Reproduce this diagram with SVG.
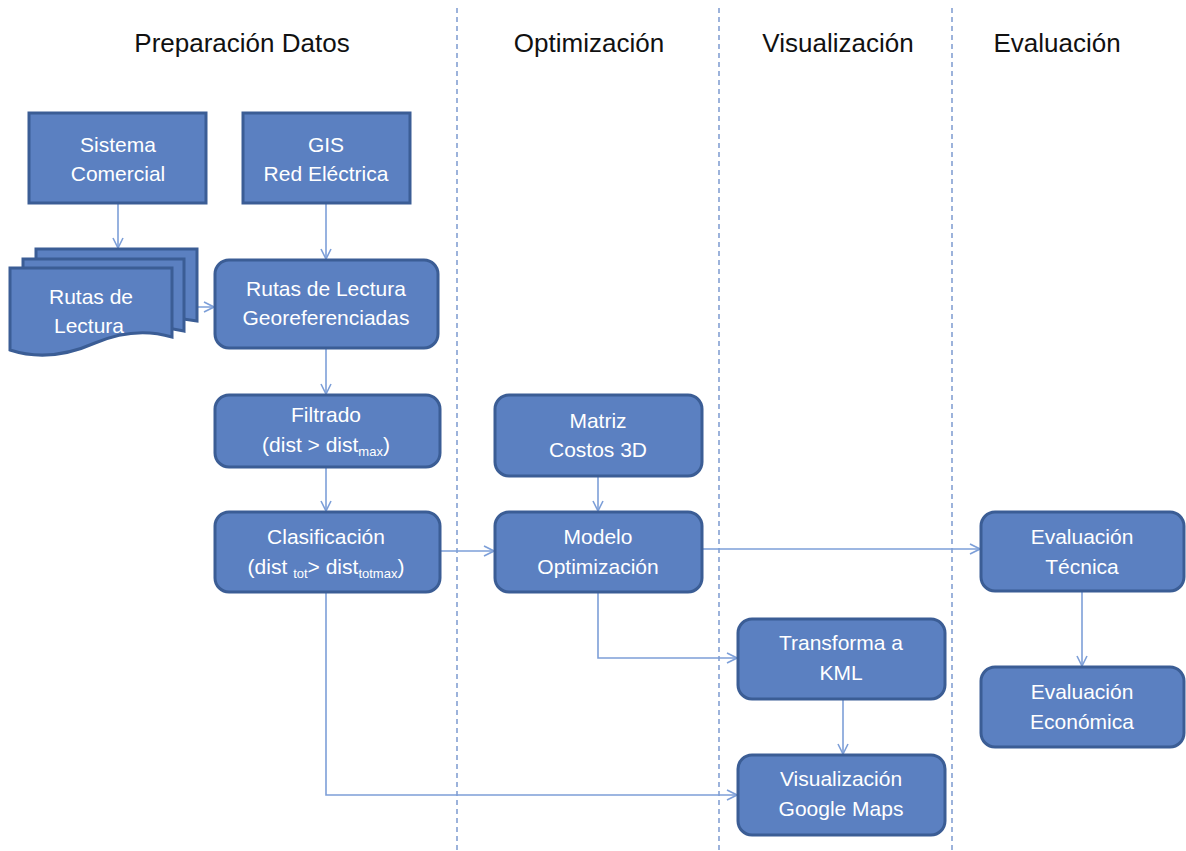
<svg xmlns="http://www.w3.org/2000/svg" width="1186" height="851" viewBox="0 0 1186 851">
  <style>
    .lane { stroke: #5b80c4; stroke-width: 1.2; stroke-dasharray: 5 4; fill: none; }
    .hdr { font-family: "Liberation Sans", Arial, sans-serif; font-size: 26px; fill: #111; text-anchor: middle; }
    .box { fill: #5b80c1; stroke: #3b5d95; stroke-width: 3; }
    .lbl { font-family: "Liberation Sans", Arial, sans-serif; font-size: 21px; fill: #fff; text-anchor: middle; }
    .sub { font-size: 13px; }
    .conn { stroke: #7d9fd8; stroke-width: 1.6; fill: none; marker-end: url(#arr); }
  </style>
  <defs>
    <marker id="arr" viewBox="0 0 12 12" refX="11" refY="6" markerWidth="12" markerHeight="12" markerUnits="userSpaceOnUse" orient="auto">
      <path d="M1,1 L11,6 L1,11" fill="none" stroke="#7d9fd8" stroke-width="1.6"/>
    </marker>
  </defs>
  <rect width="1186" height="851" fill="#fff"/>

  <!-- swimlane separators -->
  <g id="lanes">
    <line class="lane" x1="457" y1="8" x2="457" y2="851"/>
    <line class="lane" x1="719" y1="8" x2="719" y2="851"/>
    <line class="lane" x1="952" y1="8" x2="952" y2="851"/>
  </g>

  <g id="headers">
    <text class="hdr" x="242" y="52">Preparación Datos</text>
    <text class="hdr" x="589" y="52">Optimización</text>
    <text class="hdr" x="838" y="52">Visualización</text>
    <text class="hdr" x="1057" y="52">Evaluación</text>
  </g>

  <!-- connectors -->
  <g id="connectors">
    <path class="conn" d="M118,203 V248"/>
    <path class="conn" d="M326,203 V259"/>
    <path class="conn" d="M166,307 H214"/>
    <path class="conn" d="M326,348 V394"/>
    <path class="conn" d="M326,467 V511"/>
    <path class="conn" d="M440,551 H494"/>
    <path class="conn" d="M326,592 V795 H737"/>
    <path class="conn" d="M598,476 V511"/>
    <path class="conn" d="M702,549 H980"/>
    <path class="conn" d="M598,592 V658 H737"/>
    <path class="conn" d="M843,699 V754"/>
    <path class="conn" d="M1082,591 V666"/>
  </g>

  <g id="sistema-comercial">
    <rect class="box" x="29" y="113" width="177" height="90"/>
    <text class="lbl" x="118" y="152">Sistema</text>
    <text class="lbl" x="118" y="181">Comercial</text>
  </g>

  <g id="gis-red">
    <rect class="box" x="243" y="113" width="167" height="90"/>
    <text class="lbl" x="326" y="152">GIS</text>
    <text class="lbl" x="326" y="181">Red Eléctrica</text>
  </g>

  <g id="rutas-lectura">
    <path class="box" d="M36,249 H197 V321 Q170,316 150,322 L36,322 Z"/>
    <path class="box" d="M23,259 H184 V331 Q160,325 140,332 L23,332 Z"/>
    <path class="box" d="M10,268 H172 V337 Q135,326 95,343 Q50,363 10,350 Z"/>
    <text class="lbl" x="91" y="304">Rutas de</text>
    <text class="lbl" x="89" y="333">Lectura</text>
  </g>

  <g id="rutas-georef">
    <rect class="box" x="215" y="260" width="223" height="88" rx="14"/>
    <text class="lbl" x="326" y="296">Rutas de Lectura</text>
    <text class="lbl" x="326" y="325">Georeferenciadas</text>
  </g>

  <g id="filtrado">
    <rect class="box" x="215" y="395" width="225" height="72" rx="14"/>
    <text class="lbl" x="326" y="422">Filtrado</text>
    <text class="lbl" x="326" y="452">(dist &gt; dist<tspan class="sub" dy="4">max</tspan><tspan dy="-4">)</tspan></text>
  </g>

  <g id="clasificacion">
    <rect class="box" x="215" y="512" width="225" height="80" rx="14"/>
    <text class="lbl" x="326" y="544">Clasificación</text>
    <text class="lbl" x="326" y="574">(dist <tspan class="sub" dy="4">tot</tspan><tspan dy="-4">&gt; dist</tspan><tspan class="sub" dy="4">totmax</tspan><tspan dy="-4">)</tspan></text>
  </g>

  <g id="matriz-costos">
    <rect class="box" x="495" y="395" width="207" height="81" rx="14"/>
    <text class="lbl" x="598" y="428">Matriz</text>
    <text class="lbl" x="598" y="457">Costos 3D</text>
  </g>

  <g id="modelo-optimizacion">
    <rect class="box" x="495" y="512" width="207" height="80" rx="14"/>
    <text class="lbl" x="598" y="544">Modelo</text>
    <text class="lbl" x="598" y="574">Optimización</text>
  </g>

  <g id="transforma-kml">
    <rect class="box" x="738" y="619" width="207" height="80" rx="14"/>
    <text class="lbl" x="841" y="650">Transforma a</text>
    <text class="lbl" x="841" y="680">KML</text>
  </g>

  <g id="visualizacion-maps">
    <rect class="box" x="738" y="755" width="207" height="80" rx="14"/>
    <text class="lbl" x="841" y="786">Visualización</text>
    <text class="lbl" x="841" y="816">Google Maps</text>
  </g>

  <g id="evaluacion-tecnica">
    <rect class="box" x="981" y="512" width="203" height="79" rx="14"/>
    <text class="lbl" x="1082" y="544">Evaluación</text>
    <text class="lbl" x="1082" y="574">Técnica</text>
  </g>

  <g id="evaluacion-economica">
    <rect class="box" x="981" y="667" width="203" height="80" rx="14"/>
    <text class="lbl" x="1082" y="699">Evaluación</text>
    <text class="lbl" x="1082" y="729">Económica</text>
  </g>
</svg>
